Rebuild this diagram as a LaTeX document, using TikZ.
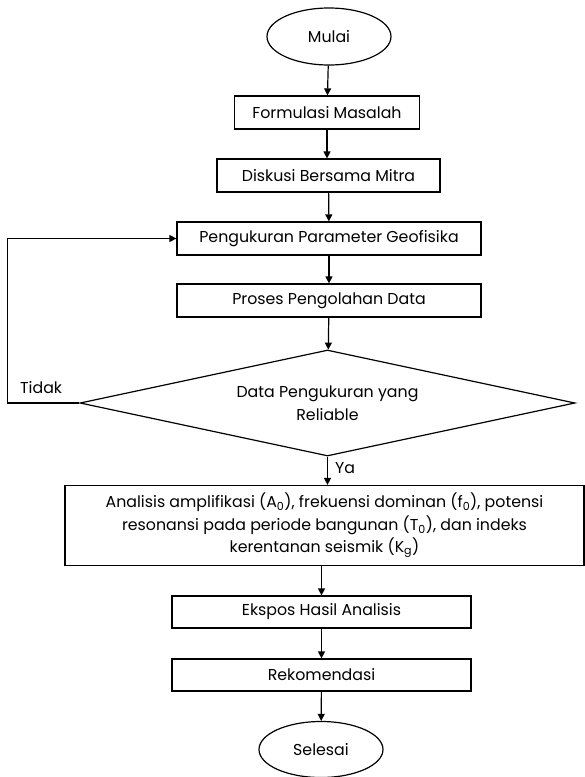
\documentclass[tikz,border=0pt]{standalone}
\usepackage{fontspec}
\setmainfont{Poppins}
\usetikzlibrary{shapes.geometric,arrows.meta}

\begin{document}
\begin{tikzpicture}[x=1pt, y=-1pt,
    every node/.style={font=\fontsize{15.8}{22.5}\selectfont, inner sep=0pt},
    proc/.style={draw, rectangle, line width=1.2pt, minimum height=33pt},
    term/.style={draw, ellipse, line width=1.2pt, minimum width=124pt, minimum height=57pt},
    decide/.style={draw, diamond, line width=1.2pt, shape aspect=4.67, minimum width=495pt, minimum height=106pt, align=center},
    arr/.style={line width=1.2pt, -{Triangle[length=7pt,width=7pt]}}]
    \useasboundingbox (0,0) rectangle (585,777);

    % Top part
    \node[term] (mulai) at (329,36.5) {Mulai};
    \node[proc, minimum width=185pt] (formulasi) at (327,112.5) {Formulasi Masalah};
    \node[proc, minimum width=223pt] (diskusi) at (328.5,175.5) {Diskusi Bersama Mitra};
    \node[proc, minimum width=304pt] (ukur) at (329,238.5) {Pengukuran Parameter Geofisika};
    \node[proc, minimum width=304pt] (proses) at (329,300.5) {Proses Pengolahan Data};
    \node[decide] (reliable) at (327.5,403) {Data Pengukuran yang\\Reliable};

    % Bottom part
    \node[proc, minimum width=519pt, minimum height=80pt, align=center] (analisis) at (324.5,525.5)
        {Analisis amplifikasi (A\textsubscript{0}), frekuensi dominan (f\textsubscript{0}), potensi\\
         resonansi pada periode bangunan (T\textsubscript{0}), dan indeks\\
         kerentanan seismik (K\textsubscript{g})};
    \node[proc, minimum width=299pt, minimum height=32pt] (ekspos) at (321.5,612) {Ekspos Hasil Analisis};
    \node[proc, minimum width=299pt, minimum height=32pt] (rekom) at (321.5,675) {Rekomendasi};
    \node[term, minimum height=56pt] (selesai) at (321,749.5) {Selesai};

    % Labels
    \node[anchor=base west] (tidak) at (20,393) {Tidak};
    \node[anchor=base west] (ya) at (335,473) {Ya};

    % Connectors
    \draw[arr] (mulai) -- (formulasi);
    \draw[arr] (formulasi.south) -- (formulasi.south |- diskusi.north);
    \draw[arr] (diskusi) -- (ukur);
    \draw[arr] (ukur) -- (proses);
    \draw[arr] (proses) -- (reliable);
    \draw[arr] (reliable.south) -- (reliable.south |- analisis.north);
    \draw[arr] (analisis.south -| ekspos) -- (ekspos);
    \draw[arr] (ekspos) -- (rekom);
    \draw[arr] (rekom) -- (selesai);
    \draw[arr] (reliable.west) -- (7.3,403) |- (ukur.west);
\end{tikzpicture}
\end{document}
